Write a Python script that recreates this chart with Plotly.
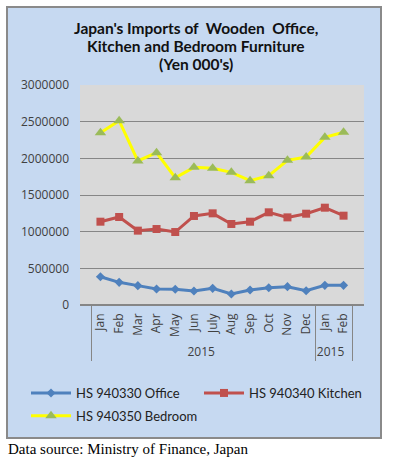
import plotly.graph_objects as go

months = ["Jan", "Feb", "Mar", "Apr", "May", "Jun", "July", "Aug", "Sep", "Oct", "Nov", "Dec", "Jan", "Feb"]
years = ["2015"] * 12 + ["2015 "] * 2
office = [386000, 309000, 264000, 218000, 214000, 191000, 227000, 150000, 205000, 236000, 250000, 195000, 268000, 268000]
kitchen = [1136000, 1200000, 1014000, 1036000, 995000, 1214000, 1250000, 1105000, 1136000, 1264000, 1195000, 1245000, 1327000, 1218000]
bedroom = [2350000, 2513000, 1964000, 2077000, 1736000, 1877000, 1864000, 1809000, 1695000, 1764000, 1973000, 2018000, 2286000, 2355000]
names = ["HS 940330 Office", "HS 940340 Kitchen", "HS 940350 Bedroom"]
title_lines = ["Japan's Imports of  Wooden  Office,", "Kitchen and Bedroom Furniture", "(Yen 000's)"]
yticks = [0, 500000, 1000000, 1500000, 2000000, 2500000, 3000000]

W, H = 393, 464
L, R, T, B = 80, 364, 85, 305

def px(x):
    return (x - L) / (R - L)

def py(y):
    return (B - y) / (B - T)

x = [years, months]
fig = go.Figure()
fig.add_trace(go.Scatter(x=x, y=office, name=names[0], mode="lines+markers", legend="legend",
                         legendgroup="a", line=dict(color="#4f81bd", width=3),
                         marker=dict(symbol="diamond", size=7, color="#4f81bd")))
fig.add_trace(go.Scatter(x=x, y=kitchen, name=names[1], mode="lines+markers", legend="legend2",
                         legendgroup="b", line=dict(color="#c0504d", width=3),
                         marker=dict(symbol="square", size=8, color="#c0504d")))
fig.add_trace(go.Scatter(x=x, y=bedroom, name=names[2], mode="lines+markers", legend="legend",
                         legendgroup="c", line=dict(color="#ffff00", width=3),
                         marker=dict(symbol="triangle-up", size=10, color="#9bbb59")))

legfont = dict(family="Lato, sans-serif", size=13, color="#222222")
tickfont = dict(family="Open Sans, sans-serif", size=12, color="#404040")
title_ann = [
    dict(text="<b>%s</b>" % t, xref="paper", yref="paper", x=px(196), y=py(yc),
         xanchor="center", yanchor="middle", showarrow=False,
         font=dict(family="Lato, sans-serif", size=15.5, color="#111111"))
    for t, yc in zip(title_lines, [28, 46, 64])
]
fig.update_layout(
    width=W, height=H,
    margin=dict(l=L, r=W - R, t=T, b=H - B, pad=0, autoexpand=False),
    paper_bgcolor="white",
    plot_bgcolor="#d9d9d9",
    font=dict(family="Lato, Open Sans, sans-serif", size=12, color="#333333"),
    showlegend=True,
    legend=dict(orientation="v", x=px(26), y=py(378), xanchor="left", yanchor="top",
                bgcolor="rgba(0,0,0,0)", font=legfont, tracegroupgap=3, itemwidth=40),
    legend2=dict(orientation="v", x=px(199), y=py(378), xanchor="left", yanchor="top",
                 bgcolor="rgba(0,0,0,0)", font=legfont, itemwidth=40),
    shapes=[
        dict(type="rect", xref="paper", yref="paper", x0=px(7), x1=px(381), y0=py(438), y1=py(7),
             fillcolor="#c6d9f1", line=dict(color="#8a8a8a", width=2), layer="below"),
        dict(type="rect", xref="paper", yref="paper", x0=0, x1=1, y0=0, y1=1,
             fillcolor="#d9d9d9", line=dict(width=0), layer="below"),
    ],
    annotations=title_ann + [
        dict(text="Data source: Ministry of Finance, Japan", xref="paper", yref="paper",
             x=px(6), y=py(449), xanchor="left", yanchor="middle", showarrow=False,
             font=dict(family="Liberation Serif, Times New Roman, serif", size=15, color="black")),
    ],
)
fig.update_yaxes(range=[0, 3000000], tickvals=yticks, ticktext=[str(v) for v in yticks],
                 showgrid=True, gridcolor="#868686", gridwidth=1, zeroline=True,
                 zerolinecolor="#868686", showline=False, ticks="", ticklen=0,
                 ticklabelstandoff=10, automargin=False, tickfont=tickfont)
fig.update_xaxes(type="multicategory", tickangle=-90, showgrid=False, showline=False,
                 showdividers=True, dividercolor="#868686", dividerwidth=1, automargin=False,
                 ticklabelstandoff=5, tickfont=tickfont)

fig.write_html("out.html", config={"displayModeBar": False},
               post_script="document.body.style.margin='0px';")
